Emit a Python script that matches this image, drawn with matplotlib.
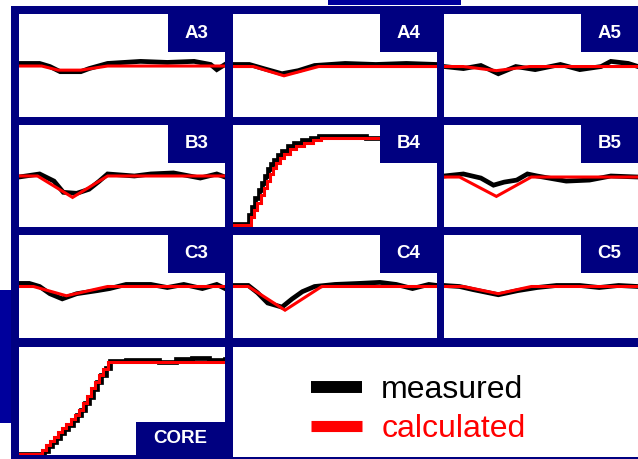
import matplotlib
matplotlib.use("Agg")
import matplotlib.pyplot as plt
from matplotlib.patches import Rectangle
from matplotlib.lines import Line2D

plt.rcParams['font.family'] = ['Liberation Sans', 'DejaVu Sans']

W, H = 638, 459
NAVY = '#000080'
NAVY2 = '#00009c'

# ---- data (x = fraction of time window, y = fraction of panel height) ----
names = ["A3", "A4", "A5", "B3", "B4", "B5", "C3", "C4", "C5", "CORE"]

meas_x = {
    "A3": [0, 0.10, 0.15, 0.20, 0.30, 0.34, 0.43, 0.59, 0.72, 0.85, 0.93, 0.96, 1.0],
    "A4": [0, 0.08, 0.15, 0.24, 0.32, 0.40, 0.55, 0.70, 0.85, 1.0],
    "A5": [0, 0.10, 0.19, 0.28, 0.37, 0.47, 0.60, 0.70, 0.81, 0.86, 0.95, 1.0],
    "B3": [0, 0.10, 0.17, 0.215, 0.28, 0.34, 0.39, 0.43, 0.56, 0.64, 0.75, 0.88, 0.96, 1.0],
    "B4": [0, 0.065, 0.08, 0.095, 0.11, 0.125, 0.14, 0.155, 0.17, 0.185, 0.20, 0.22,
           0.24, 0.27, 0.30, 0.34, 0.38, 0.42, 0.60, 0.65, 1.0],
    "B5": [0, 0.10, 0.19, 0.255, 0.31, 0.375, 0.43, 0.48, 0.63, 0.75, 0.86, 1.0],
    "C3": [0, 0.05, 0.10, 0.15, 0.21, 0.28, 0.38, 0.44, 0.52, 0.64, 0.72, 0.80, 0.89, 0.96, 1.0],
    "C4": [0, 0.075, 0.12, 0.17, 0.24, 0.29, 0.34, 0.40, 0.50, 0.62, 0.72, 0.80, 0.88, 0.96, 1.0],
    "C5": [0, 0.08, 0.15, 0.28, 0.38, 0.48, 0.58, 0.70, 0.80, 0.90, 1.0],
    "CORE": [0, 0.10, 0.12, 0.14, 0.16, 0.18, 0.20, 0.22, 0.24, 0.26, 0.28, 0.30, 0.32,
             0.34, 0.36, 0.38, 0.40, 0.42, 0.44, 0.52, 0.60, 0.68, 0.76, 0.84, 0.92, 1.0],
}
meas_y = {
    "A3": [0.52, 0.52, 0.49, 0.44, 0.44, 0.47, 0.52, 0.54, 0.53, 0.54, 0.51, 0.46, 0.51],
    "A4": [0.51, 0.51, 0.47, 0.42, 0.45, 0.50, 0.52, 0.51, 0.52, 0.51],
    "A5": [0.49, 0.47, 0.50, 0.42, 0.49, 0.46, 0.51, 0.46, 0.49, 0.54, 0.52, 0.49],
    "B3": [0.49, 0.52, 0.45, 0.34, 0.33, 0.37, 0.45, 0.52, 0.50, 0.52, 0.53, 0.48, 0.52, 0.49],
    "B4": [0.03, 0.03, 0.12, 0.20, 0.28, 0.36, 0.43, 0.50, 0.57, 0.62, 0.66, 0.71,
           0.75, 0.79, 0.82, 0.85, 0.87, 0.89, 0.89, 0.87, 0.89],
    "B5": [0.50, 0.52, 0.48, 0.41, 0.44, 0.46, 0.52, 0.50, 0.45, 0.46, 0.50, 0.49],
    "C3": [0.53, 0.53, 0.50, 0.43, 0.38, 0.43, 0.46, 0.48, 0.52, 0.52, 0.49, 0.52, 0.48, 0.52, 0.48],
    "C4": [0.51, 0.51, 0.44, 0.34, 0.30, 0.38, 0.45, 0.50, 0.52, 0.53, 0.54, 0.52, 0.48, 0.52, 0.51],
    "C5": [0.51, 0.50, 0.47, 0.42, 0.46, 0.49, 0.51, 0.51, 0.49, 0.51, 0.50],
    "CORE": [0.01, 0.01, 0.04, 0.08, 0.12, 0.16, 0.20, 0.24, 0.28, 0.32, 0.37, 0.42, 0.48,
             0.54, 0.61, 0.68, 0.74, 0.81, 0.87, 0.88, 0.88, 0.86, 0.89, 0.90, 0.88, 0.89],
}

calc_x = {
    "A3": [0, 0.11, 0.19, 0.30, 0.43, 1.0],
    "A4": [0, 0.10, 0.25, 0.42, 1.0],
    "A5": [0, 0.10, 0.27, 0.44, 1.0],
    "B3": [0, 0.09, 0.26, 0.43, 1.0],
    "B4": [0, 0.075, 0.09, 0.105, 0.12, 0.135, 0.15, 0.165, 0.18, 0.195, 0.21, 0.23,
           0.25, 0.28, 0.31, 0.35, 0.39, 0.43, 1.0],
    "B5": [0, 0.08, 0.27, 0.45, 1.0],
    "C3": [0, 0.07, 0.23, 0.43, 1.0],
    "C4": [0, 0.075, 0.255, 0.435, 1.0],
    "C5": [0, 0.10, 0.28, 0.45, 1.0],
    "CORE": [0, 0.09, 0.11, 0.13, 0.15, 0.17, 0.19, 0.21, 0.23, 0.25, 0.27, 0.29, 0.31,
             0.33, 0.35, 0.37, 0.39, 0.41, 0.43, 1.0],
}
calc_y = {
    "A3": [0.495, 0.495, 0.455, 0.455, 0.495, 0.495],
    "A4": [0.49, 0.49, 0.40, 0.49, 0.49],
    "A5": [0.49, 0.49, 0.45, 0.49, 0.49],
    "B3": [0.50, 0.50, 0.29, 0.50, 0.50],
    "B4": [0.02, 0.02, 0.10, 0.17, 0.24, 0.31, 0.38, 0.45, 0.52, 0.58, 0.63, 0.68,
           0.72, 0.76, 0.79, 0.82, 0.85, 0.87, 0.87],
    "B5": [0.49, 0.49, 0.30, 0.49, 0.49],
    "C3": [0.50, 0.50, 0.41, 0.50, 0.50],
    "C4": [0.50, 0.50, 0.27, 0.50, 0.50],
    "C5": [0.50, 0.50, 0.43, 0.50, 0.50],
    "CORE": [0.01, 0.01, 0.05, 0.09, 0.13, 0.17, 0.21, 0.25, 0.29, 0.33, 0.37, 0.42, 0.48,
             0.55, 0.62, 0.68, 0.74, 0.80, 0.86, 0.86],
}
stepped = ["B4", "CORE"]

# ---- layout in pixels (left, top, right, bottom) ----
cols = [(19, 225), (233, 437), (444, 638)]
rows = [(14, 117), (125, 227), (235, 338), (347, 455)]
boxes = {}
for r, row in enumerate(["A", "B", "C"]):
    for c, col in enumerate(["3", "4", "5"]):
        boxes[row + col] = (cols[c][0], rows[r][0], cols[c][1], rows[r][1])
boxes["CORE"] = (cols[0][0], rows[3][0], cols[0][1], rows[3][1])


def fig_rect(x0, y0, x1, y1):
    return [x0 / W, 1 - y1 / H, (x1 - x0) / W, (y1 - y0) / H]


fig = plt.figure(figsize=(W / 100, H / 100), dpi=100)
fig.patch.set_facecolor('white')

for (x0, y0, x1, y1, col) in [(11, 6, 638, 459, NAVY), (0, 290, 11, 423, NAVY2),
                              (328, 0, 461, 5, NAVY2)]:
    l, b, w, h = fig_rect(x0, y0, x1, y1)
    fig.patches.append(Rectangle((l, b), w, h, transform=fig.transFigure,
                                 facecolor=col, edgecolor='none', zorder=-5))

for name in names:
    x0, y0, x1, y1 = boxes[name]
    ax = fig.add_axes(fig_rect(x0, y0, x1, y1))
    ax.set_zorder(1)
    ax.set_facecolor('white')
    ds = 'steps-post' if name in stepped else 'default'
    ax.plot(meas_x[name], meas_y[name], color='black', lw=3.4, drawstyle=ds,
            solid_joinstyle='miter')
    ax.plot(calc_x[name], calc_y[name], color='#ff0000', lw=2.2, drawstyle=ds,
            solid_joinstyle='miter')
    ax.set_xlim(0, 1)
    ax.set_ylim(0, 1)
    ax.set_xticks([])
    ax.set_yticks([])
    for s in ax.spines.values():
        s.set_visible(False)
    pw, ph = x1 - x0, y1 - y0
    if name == "CORE":
        bw, bh = 89 / pw, 33 / ph
        bx, by = 1 - bw, 0
    else:
        bw, bh = 57 / pw, 38 / ph
        bx, by = 1 - bw, 1 - bh
    ax.add_patch(Rectangle((bx, by), bw, bh, transform=ax.transAxes,
                           facecolor=NAVY, edgecolor='none', zorder=5))
    ax.text(bx + bw / 2, by + bh / 2, name, transform=ax.transAxes,
            ha='center', va='center', color='white', fontsize=13.5,
            fontweight='bold', zorder=6)

# legend area
lax = fig.add_axes(fig_rect(233, 347, 638, 457))
lax.set_zorder(1)
lax.set_facecolor('white')
lax.set_xticks([])
lax.set_yticks([])
for s in lax.spines.values():
    s.set_visible(False)
handles = [Line2D([], [], color='black', lw=8.6, solid_capstyle='butt'),
           Line2D([], [], color='#ff0000', lw=8.0, solid_capstyle='butt')]
leg = lax.legend(handles, ["measured", "calculated"], loc='center left',
                 bbox_to_anchor=((311 - 233) / 405, 0.43), frameon=False,
                 fontsize=23, handlelength=1.6, handletextpad=0.6,
                 labelspacing=0.3, borderpad=0, borderaxespad=0)
leg.get_texts()[1].set_color('#ff0000')

fig.savefig("out.png", dpi=100, facecolor='white')
